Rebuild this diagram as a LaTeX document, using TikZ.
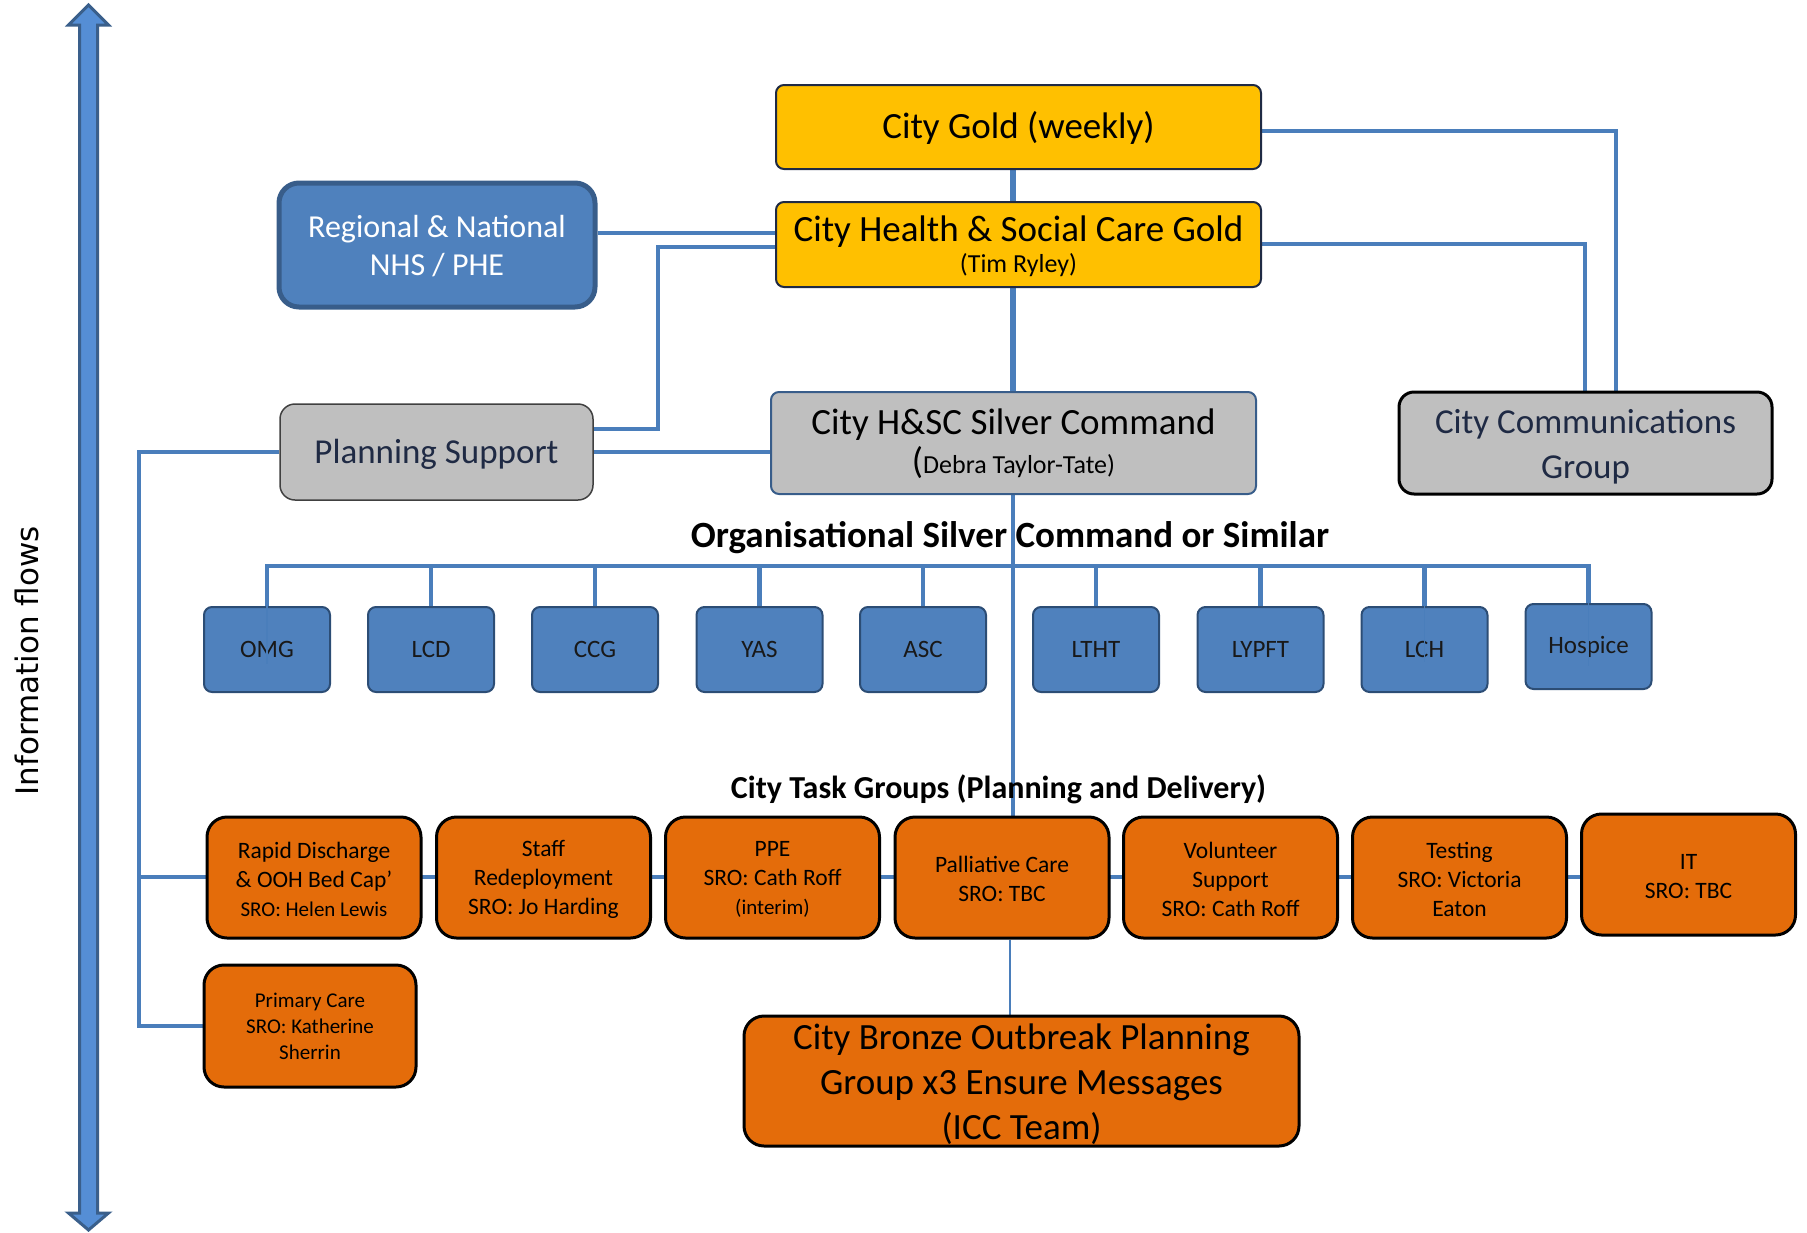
\documentclass[tikz,border=0pt]{standalone}
\usepackage{fontspec}
\setmainfont{Carlito}
\newfontfamily\infofont{DejaVu Sans}
\usetikzlibrary{backgrounds}
\definecolor{lineblue}{HTML}{4A7EBB}
\definecolor{boxblue}{HTML}{4F81BD}
\definecolor{boxblueedge}{HTML}{2C4D75}
\definecolor{regedge}{HTML}{385D8A}
\definecolor{goldfill}{HTML}{FFC000}
\definecolor{navy}{HTML}{1F2A44}
\definecolor{grayfill}{HTML}{BFBFBF}
\definecolor{orangefill}{HTML}{E46C0A}
\definecolor{arrowfill}{HTML}{558ED5}
\definecolor{arrowedge}{HTML}{3A5F8B}
\tikzset{
  conn/.style={draw=lineblue, line width=4.2pt},
  txt/.style={inner sep=0pt, align=center},
  goldbox/.style={draw=navy, line width=2pt, fill=goldfill, rounded corners=8pt,
    minimum width=485pt, inner sep=0pt},
  orgbox/.style={draw=boxblueedge, line width=2pt, fill=boxblue, rounded corners=8pt,
    minimum width=126pt, minimum height=85pt, inner sep=0pt,
    font=\fontsize{25}{30}\selectfont, text=black!90},
  taskbox/.style={draw=black, line width=3pt, fill=orangefill, rounded corners=20pt,
    minimum width=214pt, minimum height=121pt, inner sep=0pt},
  tasktext/.style={txt, font=\fontsize{23.5}{29}\selectfont, text=black, yshift=-2.3pt},
  heading/.style={font=\bfseries\fontsize{37}{44}\selectfont, inner sep=0pt, anchor=base},
}
\begin{document}
\begin{tikzpicture}[x=1pt,y=-1pt]
\useasboundingbox (0,0) rectangle (1807,1232);

% information flow arrow
\filldraw[fill=arrowfill, draw=arrowedge, line width=3pt, line join=miter]
  (79.5,25) -- (68.5,25) -- (88.5,5) -- (108.5,25) -- (97.5,25) -- (97.5,1213)
  -- (108.5,1213) -- (88.5,1230) -- (68.5,1213) -- (79.5,1213) -- cycle;
\node[rotate=90, font=\infofont\fontsize{31}{36}\selectfont, inner sep=0pt] (info) at (26.5,661) {Information flows};

% top boxes
\node[goldbox, minimum height=84pt,
  label={[txt, font=\fontsize{37}{44}\selectfont, yshift=-1pt]center:City Gold (weekly)}]
  (gold) at (1018.5,127) {};
\node[goldbox, minimum height=85pt,
  label={[txt, yshift=-2pt]center:{\fontsize{37}{39}\selectfont City Health \& Social Care Gold\\[5pt]\fontsize{26}{39}\selectfont (Tim Ryley)}}]
  (health) at (1018.5,244.5) {};
\node[draw=regedge, line width=2pt, fill=grayfill, rounded corners=8pt, minimum width=485pt,
  minimum height=102pt, inner sep=0pt,
  label={[txt, yshift=-1.2pt]center:{\fontsize{37}{47}\selectfont City H\&SC Silver Command\\[5pt]{\fontsize{37}{47}\selectfont(}\fontsize{26}{47}\selectfont Debra Taylor-Tate)}}]
  (silver) at (1013.5,443) {};
\node[draw=black, line width=3pt, fill=grayfill, rounded corners=15pt, minimum width=373pt,
  minimum height=102pt, inner sep=0pt,
  label={[txt, text=navy, font=\fontsize{35}{45}\selectfont, yshift=-4pt]center:City Communications\\Group}]
  (comms) at (1585.5,443) {};
\node[draw=regedge, line width=5pt, fill=boxblue, rounded corners=20pt, minimum width=316pt,
  minimum height=124pt, inner sep=0pt,
  label={[txt, text=white, font=\fontsize{32}{38}\selectfont, yshift=-1.5pt]center:Regional \& National\\NHS / PHE}]
  (reg) at (437,245) {};
\node[draw=black!75, line width=1.5pt, fill=grayfill, rounded corners=15pt, minimum width=313pt,
  minimum height=96pt, inner sep=0pt,
  label={[txt, text=navy, font=\fontsize{35}{42}\selectfont, yshift=-2.3pt]center:Planning Support}]
  (plan) at (436.5,452) {};

% headings
\node[heading] (orgtitle) at (1010,547) {Organisational Silver Command or Similar};
\node[heading, font=\bfseries\fontsize{32}{38}\selectfont] (tasktitle) at (998.5,798) {City Task Groups (Planning and Delivery)};

% organisations
\foreach \n/\t/\x in {omg/OMG/267, lcd/LCD/431, ccg/CCG/595, yas/YAS/759.5, asc/ASC/923,
  ltht/LTHT/1096, lypft/LYPFT/1260.5, lch/LCH/1424.5}
  \node[orgbox] (\n) at (\x,649.5) {\t};
\node[orgbox] (hospice) at (1588.5,646.5) {Hospice};

% task groups
\node[taskbox, label={[tasktext]center:Rapid Discharge\\\& OOH Bed Cap’\\{\fontsize{21}{29}\selectfont SRO: Helen Lewis}}]
  (rd) at (314,877.5) {};
\node[taskbox, label={[tasktext]center:Staff\\Redeployment\\SRO: Jo Harding}]
  (sr) at (543.5,877.5) {};
\node[taskbox, label={[tasktext]center:PPE\\SRO: Cath Roff\\{\fontsize{21}{29}\selectfont (interim)}}]
  (ppe) at (772.5,877.5) {};
\node[taskbox, label={[tasktext, yshift=1.3pt]center:Palliative Care\\SRO: TBC}]
  (pal) at (1002,877.5) {};
\node[taskbox, label={[tasktext]center:Volunteer\\Support\\SRO: Cath Roff}]
  (vol) at (1230.5,877.5) {};
\node[taskbox, label={[tasktext]center:Testing\\SRO: Victoria\\Eaton}]
  (test) at (1459.5,877.5) {};
\node[taskbox, label={[tasktext]center:IT\\SRO: TBC}]
  (it) at (1688.5,874.5) {};
\node[taskbox, minimum width=212pt, minimum height=122pt,
  label={[txt, font=\fontsize{21}{26}\selectfont]center:Primary Care\\SRO: Katherine\\Sherrin}]
  (prim) at (310,1026) {};
\node[taskbox, minimum width=555pt, minimum height=130pt,
  label={[txt, font=\fontsize{37}{45}\selectfont, yshift=-3.5pt]center:City Bronze Outbreak Planning\\Group x3 Ensure Messages\\(ICC Team)}]
  (bronze) at (1021.5,1081) {};

% connectors
\begin{scope}[on background layer]
  \coordinate (spine) at (1013,0);
  \draw[conn, line width=6pt] (gold.south -| spine) -- (health.north -| spine);
  \draw[conn, line width=6pt] (health.south -| spine) -- (silver.north -| spine);
  \draw[conn, line width=4.6pt] (silver.south -| spine) -- (pal.north -| spine);
  \coordinate (orgbus) at (0,566);
  \draw[conn] (omg.north) |- (hospice.north |- orgbus) -- (hospice.north);
  \foreach \n in {lcd,ccg,yas,asc,ltht,lypft,lch}
    \draw[conn] (\n.north) -- (\n.north |- orgbus);
  \coordinate (taskbus) at (0,877);
  \coordinate (leftx) at (139,0);
  \draw[conn] (plan.west) -| (leftx |- prim.west) -- (prim.west);
  \draw[conn] (leftx |- taskbus) -- (it.west |- taskbus);
  \coordinate (ya) at (0,233);
  \draw[conn] (reg.east |- ya) -- (health.west |- ya);
  \coordinate (pa) at (658,429);
  \coordinate (pb) at (658,247);
  \draw[conn] (plan.east |- pa) -- (pa) -- (pb) -- (health.west |- pb);
  \draw[conn] (plan.east) -- (silver.west |- plan.east);
  \coordinate (gx) at (1616,131);
  \draw[conn, line width=3.6pt] (gold.east |- gx) -| (comms.north -| gx);
  \coordinate (hx) at (1585,244);
  \draw[conn, line width=3.6pt] (health.east |- hx) -| (comms.north -| hx);
  \coordinate (bx) at (1010,0);
  \draw[conn, line width=2.5pt] (pal.south -| bx) -- (bronze.north -| bx);
\end{scope}
% drop lines that run over three of the boxes
\draw[lineblue, line width=1.5pt] (omg.north) -- ++(0,58);
\draw[lineblue, line width=1.5pt] (lch.north) -- ++(0,56);
\draw[lineblue, line width=1.5pt] (hospice.north) -- ++(0,63);
\end{tikzpicture}
\end{document}
